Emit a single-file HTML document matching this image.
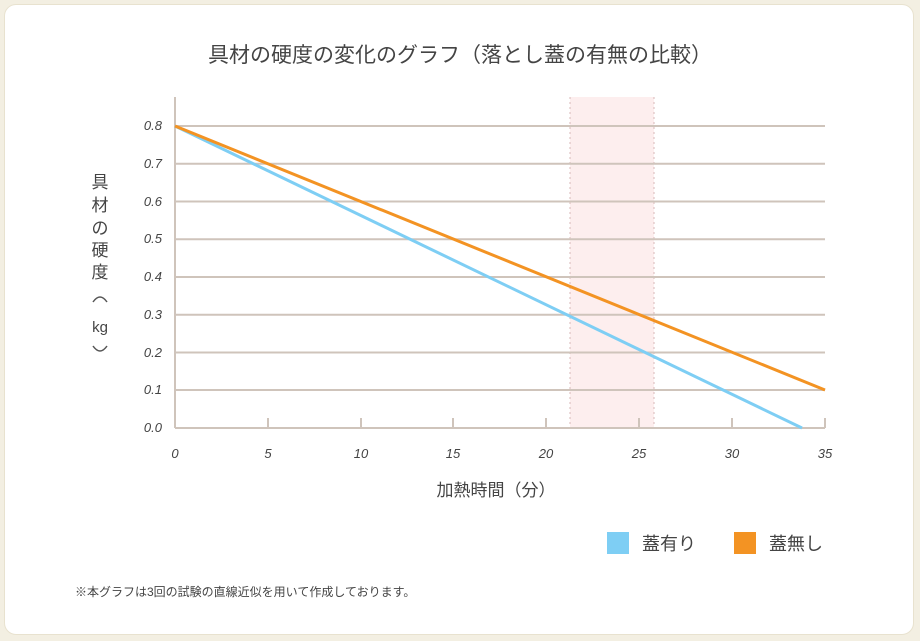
<!DOCTYPE html>
<html><head><meta charset="utf-8"><style>
html,body{margin:0;padding:0;background:#f3efe2;}
.f{position:absolute;left:4px;top:4px;width:910px;height:631px;background:#fff;border-radius:12px;border:1px solid #e8e2cf;box-sizing:border-box}
svg{position:absolute;left:0;top:0}
text{font-family:"Liberation Sans","Noto Sans CJK JP",sans-serif;fill:#444}
</style></head><body>
<div class="f"></div>
<svg width="920" height="641" viewBox="0 0 920 641">
<rect x="570" y="97" width="84" height="331" fill="#fdeeee"/>
<line x1="570" y1="97" x2="570" y2="428" stroke="#d8b8b8" stroke-dasharray="2,3"/>
<line x1="654" y1="97" x2="654" y2="428" stroke="#d8b8b8" stroke-dasharray="2,3"/>
<g stroke="#cfc4bb" stroke-width="2">
<line x1="175" y1="390" x2="825" y2="390"/>
<line x1="175" y1="352.5" x2="825" y2="352.5"/>
<line x1="175" y1="314.7" x2="825" y2="314.7"/>
<line x1="175" y1="277" x2="825" y2="277"/>
<line x1="175" y1="239.2" x2="825" y2="239.2"/>
<line x1="175" y1="201.5" x2="825" y2="201.5"/>
<line x1="175" y1="163.7" x2="825" y2="163.7"/>
<line x1="175" y1="126" x2="825" y2="126"/>
<line x1="175" y1="428" x2="825" y2="428"/>
<line x1="175" y1="97" x2="175" y2="428"/>
<line x1="268" y1="418" x2="268" y2="428"/>
<line x1="361" y1="418" x2="361" y2="428"/>
<line x1="453" y1="418" x2="453" y2="428"/>
<line x1="546" y1="418" x2="546" y2="428"/>
<line x1="639" y1="418" x2="639" y2="428"/>
<line x1="732" y1="418" x2="732" y2="428"/>
<line x1="825" y1="418" x2="825" y2="428"/>
</g>
<line x1="175" y1="126" x2="802" y2="428" stroke="#7ecef4" stroke-width="3"/>
<line x1="175" y1="126" x2="825" y2="390" stroke="#f39323" stroke-width="3"/>
<g font-size="13" text-anchor="end" font-style="italic">
<text x="162" y="432">0.0</text><text x="162" y="394">0.1</text><text x="162" y="357">0.2</text><text x="162" y="319">0.3</text><text x="162" y="281">0.4</text><text x="162" y="243">0.5</text><text x="162" y="206">0.6</text><text x="162" y="168">0.7</text><text x="162" y="130">0.8</text>
</g>
<g font-size="13" text-anchor="middle" font-style="italic">
<text x="175" y="458">0</text><text x="268" y="458">5</text><text x="361" y="458">10</text><text x="453" y="458">15</text><text x="546" y="458">20</text><text x="639" y="458">25</text><text x="732" y="458">30</text><text x="825" y="458">35</text>
</g>
<text x="460" y="62" font-size="21" text-anchor="middle">具材の硬度の変化のグラフ（落とし蓋の有無の比較）</text>
<text x="496" y="496" font-size="17" text-anchor="middle">加熱時間（分）</text>
<g font-size="17" text-anchor="middle">
<text x="100" y="188">具</text><text x="100" y="211">材</text><text x="100" y="234">の</text><text x="100" y="256">硬</text><text x="100" y="278">度</text>
<text x="100" y="332" font-size="15">kg</text>
</g>
<path d="M93 302 Q100 292 107 302" fill="none" stroke="#555" stroke-width="1.5"/>
<path d="M93 346 Q100 356 107 346" fill="none" stroke="#555" stroke-width="1.5"/>
<rect x="607" y="532" width="22" height="22" fill="#7ecef4"/>
<text x="642" y="550" font-size="18">蓋有り</text>
<rect x="734" y="532" width="22" height="22" fill="#f39323"/>
<text x="769" y="550" font-size="18">蓋無し</text>
<text x="75" y="596" font-size="12" fill="#333">※本グラフは3回の試験の直線近似を用いて作成しております。</text>
</svg>
</body></html>
